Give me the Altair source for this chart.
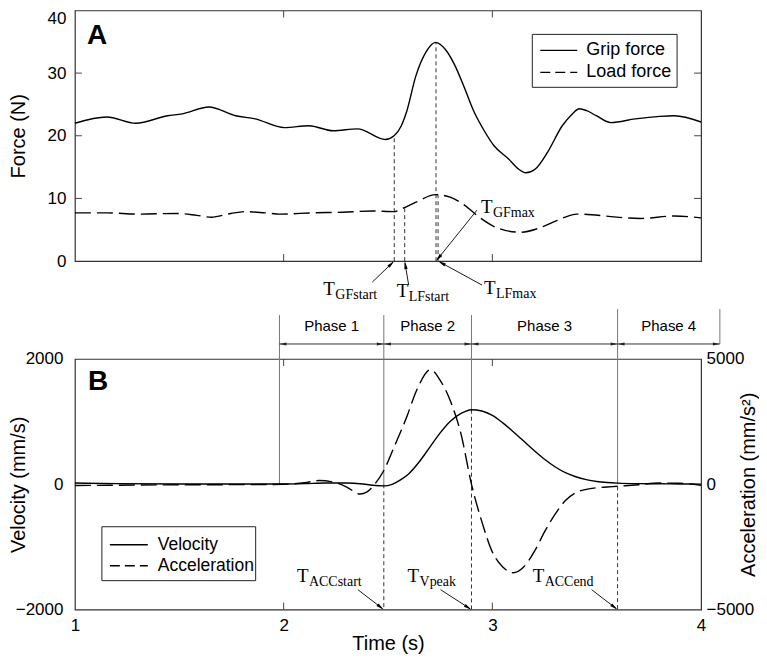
import math
import altair as alt
import pandas as pd

# ---------------- data ----------------
grip_t = [1.000, 1.152, 1.292, 1.444, 1.514, 1.642, 1.770, 1.864, 2.004, 2.121,
          2.237, 2.354, 2.487, 2.529, 2.564, 2.588, 2.634, 2.681, 2.728, 2.774,
          2.821, 2.868, 2.914, 2.961, 3.008, 3.078, 3.125, 3.160, 3.206, 3.265,
          3.335, 3.381, 3.417, 3.452, 3.498, 3.568, 3.685, 3.802, 3.872, 4.000]
grip_f = [22.0, 23.0, 22.0, 23.2, 23.5, 24.6, 23.2, 22.7, 21.3, 21.6,
          20.8, 21.1, 19.4, 20.0, 21.6, 23.7, 29.6, 33.3, 34.9, 33.8,
          31.2, 27.5, 23.7, 20.8, 18.4, 16.3, 14.7, 14.1, 14.7, 17.4,
          21.6, 23.4, 24.3, 24.0, 23.2, 22.1, 22.7, 23.1, 23.2, 22.2]

load_t = [1.000, 1.152, 1.304, 1.490, 1.584, 1.654, 1.747, 1.817, 1.911, 1.981,
          2.144, 2.284, 2.424, 2.529, 2.569, 2.634, 2.728, 2.798, 2.868, 2.938,
          3.031, 3.136, 3.218, 3.311, 3.405, 3.475, 3.568, 3.708, 3.872, 4.000]
load_f = [7.7, 7.7, 7.5, 7.6, 7.3, 7.0, 7.6, 7.9, 7.7, 7.5,
          7.7, 7.8, 8.0, 7.9, 8.4, 9.4, 10.6, 10.2, 8.9, 7.0,
          5.2, 4.6, 5.2, 6.5, 7.5, 7.4, 7.1, 6.8, 7.2, 6.9]

vel_t = [1.0, 1.2, 1.5, 1.8, 2.0, 2.1, 2.2, 2.3, 2.38, 2.44,
         2.48, 2.52, 2.56, 2.6, 2.65, 2.7, 2.75, 2.8, 2.85, 2.9,
         2.95, 3.0, 3.05, 3.1, 3.15, 3.2, 3.25, 3.3, 3.35, 3.4,
         3.45, 3.5, 3.55, 3.6, 3.7, 3.8, 3.9, 4.0]
vel_v = [20, 10, 5, 5, 5, 10, 20, 20, 5, -20,
         -25, 0, 70, 170, 360, 590, 820, 1010, 1130, 1190,
         1170, 1100, 980, 840, 690, 540, 400, 280, 185, 120,
         75, 45, 28, 18, 10, 8, 5, 3]

acc_t = [1.0, 1.5, 1.9, 2.0, 2.1, 2.17, 2.25, 2.3, 2.366, 2.4,
         2.436, 2.478, 2.53, 2.588, 2.64, 2.704, 2.75, 2.8, 2.85, 2.9,
         2.95, 3.0, 3.05, 3.1, 3.15, 3.2, 3.25, 3.3, 3.35, 3.4,
         3.45, 3.5, 3.55, 3.6, 3.7, 3.8, 3.9, 4.0]
acc_a = [-50, -20, -10, 0, 60, 150, 60, -100, -390, -300,
         0, 520, 1500, 2650, 3800, 4570, 4150, 3300, 2000, 0,
         -1500, -2700, -3300, -3530, -3300, -2700, -1900, -1200, -650, -330,
         -200, -140, -110, -80, -20, 50, 40, -40]

force_events = ["GFstart", "LFstart", "GFmax", "LFmax"]
force_event_t = [2.53, 2.58, 2.73, 2.74]
force_event_v = [20.0, 8.4, 34.9, 10.6]

motion_events = ["ACCstart", "Vpeak", "ACCend"]
motion_event_t = [2.48, 2.90, 3.60]
motion_event_v = [0, 1190, -32]          # curve level (velocity-axis units)

phase_names = ["Phase 1", "Phase 2", "Phase 3", "Phase 4"]
phase_bounds = [1.98, 2.48, 2.90, 3.60, 4.09]

x_ticks = [1, 2, 3, 4]
force_ticks = [0, 10, 20, 30, 40]
vel_ticks = [-2000, 0, 2000]
acc_ticks = [-5000, 0, 5000]
inner_x_ticks = [2, 3]
inner_force_ticks = [10, 20, 30]

top_legend = ["Grip force", "Load force"]
bottom_legend = ["Velocity", "Acceleration"]

# ---------------- layout (pixels) ----------------
W, H = 627, 251
PXT = W / 3.0
F_MAX, V_MAX, A_MAX = 40.0, 2000.0, 5000.0

def tx(t, px):
    return t + px / PXT

def fy(v, px):          # px positive = downward
    return v - px * F_MAX / H

def vy(v, px):
    return v - px * 2 * V_MAX / H

# annotation offsets: tail (dx, dy), label (lx, ly) relative to arrow head
top_ann_layout = {
    "GFstart": ((-22, 21), (-71, 34)),
    "LFstart": ((4, 24), (-8, 36)),
    "GFmax": ((41, -51), (45, -48)),
    "LFmax": ((44, 24), (46, 33)),
}
bot_ann_layout = {
    "ACCstart": ((-26, -20), (-87, -28)),
    "Vpeak": ((-31, -20), (-64, -28)),
    "ACCend": ((-26, -20), (-85, -28)),
}

xs = alt.Scale(domain=[1, 4], nice=False, zero=False)
fs = alt.Scale(domain=[0, 40], nice=False, zero=False)
vs = alt.Scale(domain=[-2000, 2000], nice=False, zero=False)
as_ = alt.Scale(domain=[-5000, 5000], nice=False, zero=False)

ARROW_PATH = "M0,-1L0.42,1L-0.42,1Z"
LINE_W = 1.4
DASH_CURVE = [16, 6]
DASH_EVENT = [4, 3]
SERIF = "Liberation Serif"
SANS = "Liberation Sans"

# axes (the same object is given to every layer sharing a scale)
force_axis = alt.Axis(values=force_ticks, title="Force (N)", labelPadding=9,
                      labelFlush=False, titleX=-56, titleBaseline="middle",
                      labelBaseline={"condition": {"test": "datum.value == 40", "value": "top"},
                                     "value": "middle"})
vel_axis = alt.Axis(values=vel_ticks, title="Velocity (mm/s)", labelPadding=12, format="d",
                    labelFlush=False, titleX=-56, titleBaseline="middle")
acc_axis = alt.Axis(values=acc_ticks, title="Acceleration (mm/s²)", orient="right",
                    labelPadding=5, format="d", labelFlush=False, titleX=47,
                    titleAngle=270, titleBaseline="middle")
x_axis = alt.Axis(values=x_ticks, title="Time (s)", labelPadding=8, titlePadding=0,
                  labelFlush=False, format="d")


def make_enc(x_axis_obj, yscale, y_axis_obj):
    def X(f):
        return alt.X(f, type="quantitative", scale=xs, axis=x_axis_obj)

    def Y(f):
        return alt.Y(f, type="quantitative", scale=yscale, axis=y_axis_obj)
    return X, Y


TX, TY = make_enc(None, fs, force_axis)      # top panel
BX, BY = make_enc(x_axis, vs, vel_axis)      # bottom panel (velocity scale)


def annotations(names, times, head_val, layout, yconv, X, Y):
    rows_arrow, rows_head, rows_T, rows_sub = [], [], [], []
    for name, t in zip(names, times):
        (dx, dy), (lx, ly) = layout[name]
        vx, vyy = -dx, -dy
        n = math.hypot(vx, vyy)
        ux, uy = vx / n, vyy / n
        ang = math.degrees(math.atan2(vx, -vyy)) % 360
        rows_arrow.append({"x1": tx(t, dx), "y1": yconv(head_val, dy),
                           "x2": tx(t, -2 * ux), "y2": yconv(head_val, -2 * uy)})
        rows_head.append({"x": tx(t, -4 * ux), "y": yconv(head_val, -4 * uy), "ang": ang})
        rows_T.append({"x": tx(t, lx), "y": yconv(head_val, ly), "txt": "T"})
        rows_sub.append({"x": tx(t, lx + 12), "y": yconv(head_val, ly + 4), "txt": name})
    arrows = alt.Chart(pd.DataFrame(rows_arrow)).mark_rule(color="black", strokeWidth=0.9).encode(
        x=X("x1"), x2="x2:Q", y=Y("y1"), y2="y2:Q")
    heads = alt.Chart(pd.DataFrame(rows_head)).mark_point(
        shape=ARROW_PATH, filled=True, size=64, color="black", opacity=1).encode(
        x=X("x"), y=Y("y"), angle=alt.Angle("ang:Q", scale=None))
    tT = alt.Chart(pd.DataFrame(rows_T)).mark_text(
        font=SERIF, fontSize=19, align="left", baseline="alphabetic", color="black").encode(
        x=X("x"), y=Y("y"), text="txt:N")
    tS = alt.Chart(pd.DataFrame(rows_sub)).mark_text(
        font=SERIF, fontSize=14, align="left", baseline="alphabetic", color="black").encode(
        x=X("x"), y=Y("y"), text="txt:N")
    return [arrows, heads, tT, tS]


def legend(labels, box, line_x, text_x, rows_y, fsize):
    one = pd.DataFrame({"k": [0]})
    layers = [alt.Chart(one).mark_rect(fill="white", stroke="#222", strokeWidth=1).encode(
        x=alt.value(box[0]), x2=alt.value(box[2]), y=alt.value(box[1]), y2=alt.value(box[3]))]
    for i, lab in enumerate(labels):
        kw = {} if i == 0 else {"strokeDash": [10, 5]}
        layers.append(alt.Chart(one).mark_rule(color="black", strokeWidth=LINE_W, **kw).encode(
            x=alt.value(line_x[0]), x2=alt.value(line_x[1]), y=alt.value(rows_y[i])))
        layers.append(alt.Chart(pd.DataFrame({"lab": [lab]})).mark_text(
            font=SANS, fontSize=fsize, align="left", baseline="middle", color="black").encode(
            x=alt.value(text_x), y=alt.value(rows_y[i]), text="lab:N"))
    return layers


def inner_ticks_x(vals, X):
    d = pd.DataFrame({"t": vals})
    return [
        alt.Chart(d).mark_rule(color="#444", strokeWidth=1).encode(
            x=X("t"), y=alt.value(0), y2=alt.value(7)),
        alt.Chart(d).mark_rule(color="#444", strokeWidth=1).encode(
            x=X("t"), y=alt.value(H - 7), y2=alt.value(H)),
    ]


# ---------------- top panel ----------------
grip = alt.Chart(pd.DataFrame({"t": grip_t, "f": grip_f})).mark_line(
    color="black", strokeWidth=LINE_W, interpolate="monotone").encode(x=TX("t"), y=TY("f"))
load = alt.Chart(pd.DataFrame({"t": load_t, "f": load_f})).mark_line(
    color="black", strokeWidth=LINE_W, interpolate="monotone", strokeDash=DASH_CURVE).encode(
    x=TX("t"), y=TY("f"))

fev = pd.DataFrame({"t": force_event_t, "v": force_event_v, "z": [0] * len(force_event_t)})
f_event_lines = alt.Chart(fev).mark_rule(color="#333", strokeWidth=1, strokeDash=DASH_EVENT).encode(
    x=TX("t"), y=TY("z"), y2="v:Q")

fdf = pd.DataFrame({"f": inner_force_ticks})
f_ticks_lr = [
    alt.Chart(fdf).mark_rule(color="#444").encode(y=TY("f"), x=alt.value(0), x2=alt.value(7)),
    alt.Chart(fdf).mark_rule(color="#444").encode(y=TY("f"), x=alt.value(W - 7), x2=alt.value(W)),
]

label_A = alt.Chart(pd.DataFrame({"s": ["A"]})).mark_text(
    font=SANS, fontSize=28, fontWeight="bold", align="left", baseline="alphabetic",
    color="black").encode(x=alt.value(12), y=alt.value(34), text="s:N")

top_layers = ([f_event_lines, grip, load]
              + annotations(force_events, force_event_t, 0.0, top_ann_layout, fy, TX, TY)
              + legend(top_legend, (458, 24, 603, 77), (466, 503), 512, (40, 62), 18)
              + inner_ticks_x(inner_x_ticks, TX) + f_ticks_lr + [label_A])
top = alt.layer(*top_layers).properties(width=W, height=H)

# ---------------- bottom panel ----------------
vel = alt.Chart(pd.DataFrame({"t": vel_t, "v": vel_v})).mark_line(
    color="black", strokeWidth=LINE_W, interpolate="monotone").encode(x=BX("t"), y=BY("v"))

acc = alt.Chart(pd.DataFrame({"t": acc_t, "a": acc_a})).mark_line(
    color="black", strokeWidth=LINE_W, interpolate="monotone", strokeDash=DASH_CURVE).encode(
    x=BX("t"), y=alt.Y("a:Q", scale=as_, axis=acc_axis))


def pv(px):
    return vy(V_MAX, px)


# phase boundary lines (solid, grey)
phase_top_px = [-44, -44, -44, -50, -50]
phase_bot = [0, 0, motion_event_v[1], 0, pv(-15)]
pl = pd.DataFrame({"t": phase_bounds, "y1": [pv(p) for p in phase_top_px], "y2": phase_bot})
phase_lines = alt.Chart(pl).mark_rule(color="#777", strokeWidth=1).encode(
    x=BX("t"), y=BY("y1"), y2="y2:Q")

# phase arrows
pa = pd.DataFrame({"t1": phase_bounds[:-1], "t2": phase_bounds[1:],
                   "y": [pv(-15)] * 4, "name": phase_names})
pa["mid"] = (pa["t1"] + pa["t2"]) / 2
pa["ylab"] = pv(-33)
phase_arrows = alt.Chart(pa).mark_rule(color="#333", strokeWidth=1).encode(
    x=BX("t1"), x2="t2:Q", y=BY("y"))
heads_l = alt.Chart(pa).mark_point(shape=ARROW_PATH, filled=True, size=49, color="#222",
                                   opacity=1, angle=270, xOffset=3.5).encode(x=BX("t1"), y=BY("y"))
heads_r = alt.Chart(pa).mark_point(shape=ARROW_PATH, filled=True, size=49, color="#222",
                                   opacity=1, angle=90, xOffset=-3.5).encode(x=BX("t2"), y=BY("y"))
phase_text = alt.Chart(pa).mark_text(font=SANS, fontSize=15, baseline="middle",
                                     color="black").encode(x=BX("mid"), y=BY("ylab"), text="name:N")

mev = pd.DataFrame({"t": motion_event_t, "v": motion_event_v,
                    "b": [-V_MAX] * len(motion_event_t)})
m_event_lines = alt.Chart(mev).mark_rule(color="#333", strokeWidth=1, strokeDash=DASH_EVENT).encode(
    x=BX("t"), y=BY("v"), y2="b:Q")

label_B = alt.Chart(pd.DataFrame({"s": ["B"]})).mark_text(
    font=SANS, fontSize=28, fontWeight="bold", align="left", baseline="alphabetic",
    color="black").encode(x=alt.value(13), y=alt.value(31), text="s:N")

vel_group = alt.layer(
    *([phase_lines, m_event_lines, phase_arrows, heads_l, heads_r, phase_text, vel]
      + annotations(motion_events, motion_event_t, -V_MAX, bot_ann_layout, vy, BX, BY)
      + legend(bottom_legend, (27, 168, 181, 222), (35, 73), 83, (186, 207), 17.5)
      + inner_ticks_x(inner_x_ticks, BX) + [label_B]))

bottom = alt.layer(vel_group, acc).resolve_scale(y="independent").properties(width=W, height=H)

chart = alt.vconcat(top, bottom, spacing=98, bounds="flush").resolve_scale(
    x="independent", y="independent").properties(
    padding={"left": 0, "top": 0, "right": 0, "bottom": 0}
).configure_view(stroke="#333", strokeWidth=1.2).configure_axis(
    labelFont=SANS, titleFont=SANS, labelFontSize=17, titleFontSize=20,
    titleFontWeight="normal", labelColor="black", titleColor="black",
    tickSize=0, domain=False, grid=False)

chart.save("out.html", embed_options={"renderer": "svg", "actions": False})
